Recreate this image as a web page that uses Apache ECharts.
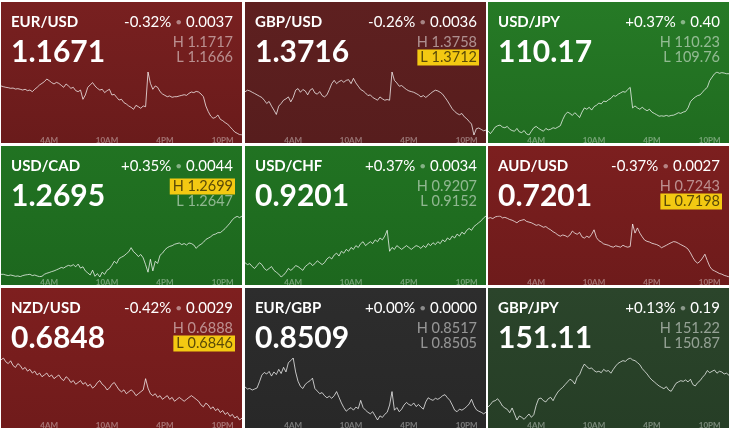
<!DOCTYPE html>
<html><head><meta charset="utf-8">
<script src="https://cdn.jsdelivr.net/npm/echarts@6/dist/echarts.min.js"></script>
<style>html,body{margin:0;padding:0;background:#fff}#c{width:731px;height:436px}</style>
</head><body><div id="c"></div><script>
// ---------- data ----------
const pairs = ['EUR/USD','GBP/USD','USD/JPY','USD/CAD','USD/CHF','AUD/USD','NZD/USD','EUR/GBP','GBP/JPY'];
const lastPrices = ['1.1671','1.3716','110.17','1.2695','0.9201','0.7201','0.6848','0.8509','151.11'];
const changePct = ['-0.32%','-0.26%','+0.37%','+0.35%','+0.37%','-0.37%','-0.42%','+0.00%','+0.13%'];
const changeAbs = ['0.0037','0.0036','0.40','0.0044','0.0034','0.0027','0.0029','0.0000','0.19'];
const highs = ['1.1717','1.3758','110.23','1.2699','0.9207','0.7243','0.6888','0.8517','151.22'];
const lows  = ['1.1666','1.3712','109.76','1.2647','0.9152','0.7198','0.6846','0.8505','150.87'];
const highlighted = ['', 'L', '', 'H', '', 'L', 'L', '', ''];
const timeLabels = ['4AM','10AM','4PM','10PM'];

const eurusd = [1.17057,1.17051,1.17046,1.17043,1.17038,1.17040,1.17032,1.17035,1.17030,1.17024,
1.17030,1.17019,1.17024,1.17011,1.17030,1.17046,1.17065,1.17078,1.17092,1.17113,
1.17100,1.17084,1.17073,1.17086,1.17078,1.17062,1.17046,1.17073,1.17057,1.17038,
1.17046,1.17019,1.17011,1.17024,1.16949,1.16984,1.17046,1.17065,1.17084,1.17057,
1.17038,1.17024,1.17030,1.17003,1.17019,1.17030,1.16984,1.16989,1.16965,1.16943,
1.16949,1.16922,1.16911,1.16895,1.16884,1.16868,1.16900,1.16889,1.16876,1.16895,
1.16889,1.17170,1.17078,1.17030,1.17057,1.17046,1.17011,1.16992,1.16981,1.16970,
1.16976,1.16965,1.16970,1.16970,1.16976,1.16981,1.16986,1.16981,1.16997,1.17008,
1.17003,1.17013,1.17008,1.16992,1.16970,1.16895,1.16849,1.16814,1.16795,1.16803,
1.16822,1.16787,1.16776,1.16760,1.16749,1.16727,1.16706,1.16684,1.16674,1.16663,1.16660];

const gbpusd = [1.37435,1.37447,1.37442,1.37432,1.37423,1.37413,1.37403,1.37394,1.37374,1.37350,
1.37365,1.37331,1.37302,1.37270,1.37331,1.37350,1.37374,1.37384,1.37398,1.37362,
1.37394,1.37447,1.37459,1.37432,1.37452,1.37442,1.37413,1.37447,1.37459,1.37427,
1.37418,1.37437,1.37408,1.37398,1.37413,1.37452,1.37495,1.37519,1.37495,1.37510,
1.37519,1.37505,1.37519,1.37524,1.37495,1.37534,1.37500,1.37476,1.37452,1.37442,
1.37427,1.37408,1.37413,1.37394,1.37384,1.37374,1.37398,1.37384,1.37374,1.37379,
1.37374,1.37580,1.37519,1.37500,1.37476,1.37481,1.37466,1.37452,1.37442,1.37437,
1.37432,1.37423,1.37413,1.37398,1.37408,1.37394,1.37408,1.37423,1.37437,1.37447,
1.37442,1.37432,1.37418,1.37394,1.37369,1.37340,1.37311,1.37292,1.37277,1.37268,
1.37277,1.37253,1.37239,1.37219,1.37200,1.37120,1.37166,1.37171,1.37161,1.37151,1.37156];

const usdjpy = [109.791,109.770,109.793,109.819,109.829,109.834,109.819,109.814,109.824,109.803,
109.793,109.788,109.809,109.783,109.778,109.793,109.768,109.760,109.788,109.814,
109.824,109.809,109.798,109.788,109.809,109.798,109.803,109.814,109.809,109.819,
109.829,109.875,109.911,109.931,109.921,109.906,109.926,109.911,109.890,109.931,
109.962,109.952,109.967,109.946,109.972,109.982,109.998,109.992,110.013,110.008,
110.023,110.033,110.054,110.049,110.064,110.074,110.084,110.079,110.100,110.115,
109.962,109.977,109.962,109.952,109.967,109.952,109.941,109.952,109.931,109.921,
109.911,109.900,109.903,109.900,109.906,109.900,109.906,109.908,109.916,109.926,
109.921,109.931,109.936,109.962,110.008,110.028,110.043,110.054,110.059,110.079,
110.100,110.115,110.166,110.192,110.217,110.230,110.220,110.225,110.222,110.217,110.217];

const usdcad = [1.26493,1.26493,1.26487,1.26482,1.26487,1.26482,1.26476,1.26479,1.26473,1.26482,
1.26487,1.26490,1.26493,1.26482,1.26487,1.26479,1.26473,1.26476,1.26493,1.26502,
1.26508,1.26516,1.26522,1.26531,1.26540,1.26551,1.26546,1.26560,1.26569,1.26563,
1.26575,1.26557,1.26580,1.26546,1.26557,1.26522,1.26505,1.26487,1.26528,1.26476,
1.26499,1.26470,1.26511,1.26493,1.26528,1.26540,1.26569,1.26604,1.26586,1.26627,
1.26639,1.26650,1.26668,1.26685,1.26720,1.26685,1.26668,1.26644,1.26662,1.26633,
1.26575,1.26511,1.26621,1.26522,1.26604,1.26586,1.26656,1.26673,1.26702,1.26720,
1.26731,1.26737,1.26749,1.26755,1.26760,1.26746,1.26755,1.26743,1.26760,1.26755,
1.26743,1.26714,1.26737,1.26749,1.26766,1.26790,1.26801,1.26813,1.26830,1.26836,
1.26848,1.26848,1.26865,1.26883,1.26906,1.26929,1.26958,1.26976,1.26987,1.26976,1.26990];

const usdchf = [0.91649,0.91632,0.91640,0.91614,0.91597,0.91623,0.91649,0.91632,0.91597,0.91580,
0.91597,0.91614,0.91580,0.91563,0.91546,0.91520,0.91537,0.91563,0.91597,0.91580,
0.91597,0.91623,0.91614,0.91597,0.91580,0.91614,0.91632,0.91649,0.91623,0.91640,
0.91666,0.91649,0.91632,0.91649,0.91683,0.91700,0.91683,0.91718,0.91735,0.91709,
0.91752,0.91735,0.91769,0.91752,0.91786,0.91769,0.91803,0.91786,0.91821,0.91838,
0.91803,0.91821,0.91838,0.91821,0.91855,0.91838,0.91872,0.91855,0.91889,0.91941,
0.91752,0.91786,0.91769,0.91803,0.91786,0.91769,0.91786,0.91803,0.91786,0.91769,
0.91786,0.91803,0.91795,0.91778,0.91803,0.91786,0.91821,0.91803,0.91829,0.91812,
0.91838,0.91821,0.91855,0.91838,0.91872,0.91855,0.91889,0.91872,0.91907,0.91889,
0.91924,0.91907,0.91941,0.91958,0.91941,0.91975,0.91992,0.92010,0.92027,0.92053,0.92070];

const audusd = [0.72413,0.72418,0.72411,0.72423,0.72428,0.72430,0.72416,0.72420,0.72413,0.72404,
0.72399,0.72390,0.72380,0.72394,0.72399,0.72404,0.72390,0.72385,0.72380,0.72371,
0.72361,0.72366,0.72357,0.72347,0.72352,0.72338,0.72328,0.72314,0.72304,0.72290,
0.72281,0.72290,0.72285,0.72276,0.72290,0.72319,0.72304,0.72295,0.72309,0.72276,
0.72267,0.72281,0.72271,0.72295,0.72328,0.72271,0.72248,0.72238,0.72224,0.72219,
0.72214,0.72205,0.72200,0.72210,0.72205,0.72200,0.72214,0.72205,0.72200,0.72205,
0.72371,0.72304,0.72342,0.72304,0.72276,0.72252,0.72243,0.72238,0.72229,0.72224,
0.72219,0.72210,0.72196,0.72205,0.72214,0.72224,0.72233,0.72241,0.72238,0.72229,
0.72219,0.72210,0.72200,0.72186,0.72158,0.72124,0.72096,0.72082,0.72096,0.72120,
0.72148,0.72101,0.72058,0.72034,0.72025,0.72016,0.72006,0.72001,0.71992,0.71987,0.71980];

const nzdusd = [0.68867,0.68880,0.68854,0.68842,0.68861,0.68829,0.68816,0.68842,0.68829,0.68803,
0.68816,0.68791,0.68803,0.68778,0.68791,0.68765,0.68778,0.68753,0.68765,0.68778,
0.68753,0.68765,0.68740,0.68753,0.68765,0.68740,0.68727,0.68753,0.68740,0.68714,
0.68727,0.68702,0.68714,0.68727,0.68702,0.68714,0.68689,0.68702,0.68676,0.68689,
0.68714,0.68727,0.68702,0.68689,0.68664,0.68676,0.68702,0.68714,0.68689,0.68664,
0.68651,0.68664,0.68638,0.68651,0.68664,0.68651,0.68625,0.68638,0.68651,0.68664,
0.68740,0.68676,0.68638,0.68625,0.68638,0.68613,0.68625,0.68600,0.68613,0.68625,
0.68600,0.68613,0.68587,0.68600,0.68613,0.68600,0.68587,0.68600,0.68613,0.68625,
0.68613,0.68600,0.68587,0.68562,0.68549,0.68574,0.68562,0.68536,0.68549,0.68524,
0.68536,0.68511,0.68524,0.68498,0.68511,0.68485,0.68498,0.68473,0.68485,0.68460,0.68473];

const eurgbp = [0.85114,0.85110,0.85111,0.85108,0.85110,0.85112,0.85124,0.85137,0.85142,0.85139,
0.85144,0.85135,0.85143,0.85138,0.85148,0.85140,0.85152,0.85143,0.85161,0.85165,
0.85170,0.85143,0.85125,0.85115,0.85111,0.85119,0.85123,0.85126,0.85131,0.85111,
0.85106,0.85101,0.85103,0.85097,0.85093,0.85096,0.85092,0.85097,0.85105,0.85094,
0.85083,0.85074,0.85067,0.85071,0.85074,0.85069,0.85075,0.85072,0.85088,0.85074,
0.85069,0.85065,0.85062,0.85066,0.85058,0.85050,0.85058,0.85055,0.85061,0.85065,
0.85079,0.85105,0.85069,0.85074,0.85066,0.85071,0.85079,0.85084,0.85080,0.85078,
0.85083,0.85076,0.85080,0.85075,0.85071,0.85085,0.85093,0.85090,0.85088,0.85092,
0.85090,0.85093,0.85097,0.85099,0.85093,0.85088,0.85079,0.85069,0.85066,0.85071,
0.85069,0.85072,0.85076,0.85081,0.85090,0.85078,0.85070,0.85067,0.85065,0.85062,0.85065];

const gbpjpy = [150.943,150.957,150.975,150.979,150.990,150.972,150.949,150.938,150.930,150.911,
150.938,150.904,150.870,150.893,150.885,150.874,150.889,150.904,150.885,150.900,
150.953,150.990,150.994,150.979,150.972,150.990,150.998,150.979,151.006,151.028,
151.043,151.054,151.070,151.085,151.100,151.092,151.073,151.111,151.126,151.160,
151.186,151.171,151.160,151.164,151.149,151.141,151.145,151.137,151.156,151.145,
151.149,151.134,151.156,151.175,151.190,151.198,151.205,151.201,151.213,151.220,
151.209,151.205,151.194,151.182,151.160,151.145,151.130,151.111,151.096,151.085,
151.073,151.062,151.054,151.047,151.058,151.039,151.032,151.054,151.077,151.085,
151.092,151.088,151.096,151.085,151.100,151.070,151.062,151.081,151.092,151.111,
151.126,151.149,151.137,151.145,151.152,151.134,151.145,151.141,151.130,151.134,151.122];

const seriesData = [eurusd, gbpusd, usdjpy, usdcad, usdchf, audusd, nzdusd, eurgbp, gbpjpy];

// ---------- styles / layout ----------
const bgTop = ['#782020','#5e2020','#267a26','#217322','#217322','#7c1f1f','#7e1f1f','#2d2d2d','#2b452b'];
const bgBot = ['#6a1b1b','#571d1d','#206c20','#1d671e','#1d671e','#6e1b1b','#701b1b','#282828','#263e26'];
const colX = [1, 245, 488];
const rowY = [2, 146, 288];
const rowH = [141, 139, 140];
const tileW = 241;
const FONT = 'Lato, "Open Sans", sans-serif';

// 15-minute steps from 11PM (previous day) to midnight
const times = [];
for (let i = 0; i < seriesData[0].length; i++) {
  const m = 23 * 60 + i * 15;
  const h = Math.floor(m / 60) % 24, mm = m % 60;
  const h12 = h % 12 === 0 ? 12 : h % 12;
  const ap = h < 12 ? 'AM' : 'PM';
  times.push(mm === 0 ? h12 + ap : h12 + ':' + String(mm).padStart(2, '0') + ap);
}

const grids = [], xAxes = [], yAxes = [], series = [], els = [];
pairs.forEach((p, i) => {
  const r = Math.floor(i / 3);
  const x0 = colX[i % 3], y0 = rowY[r], tileH = rowH[r];
  grids.push({ left: x0, top: y0 + 70, width: tileW, height: tileH - 78 });
  xAxes.push({
    type: 'category', gridIndex: i, data: times, boundaryGap: false,
    axisLine: { show: false }, axisTick: { show: false }, splitLine: { show: false },
    axisLabel: {
      interval: (idx, val) => timeLabels.includes(val),
      color: 'rgba(255,255,255,0.38)', fontSize: 8, fontWeight: 'bold', fontFamily: FONT, margin: 1
    }
  });
  yAxes.push({ type: 'value', gridIndex: i, min: 'dataMin', max: 'dataMax', show: false, scale: true });
  series.push({
    type: 'line', xAxisIndex: i, yAxisIndex: i, data: seriesData[i], showSymbol: false, symbol: 'none',
    lineStyle: { width: 1, color: 'rgba(255,255,255,0.72)' }, silent: true, z: 5
  });

  els.push({
    type: 'rect', silent: true, z: 0,
    shape: { x: x0, y: y0, width: tileW, height: tileH },
    style: { fill: new echarts.graphic.LinearGradient(0, 0, 0, 1, [
      { offset: 0, color: bgTop[i] }, { offset: 1, color: bgBot[i] }]) }
  });
  els.push({
    type: 'text', z: 100, x: x0 + 10, y: y0 + 20,
    style: { text: p, fill: '#fff', fontSize: 15, fontWeight: 'bold', fontFamily: FONT, align: 'left', verticalAlign: 'middle' }
  });
  els.push({
    type: 'text', z: 100, x: x0 + 10, y: y0 + 50,
    style: { text: lastPrices[i], fill: '#fff', fontSize: 30, fontWeight: 'bold', fontFamily: FONT, align: 'left', verticalAlign: 'middle' }
  });
  els.push({
    type: 'text', z: 100, x: x0 + 232, y: y0 + 20,
    style: {
      text: '{v|' + changePct[i] + '} {d|•} {v|' + changeAbs[i] + '}',
      fontSize: 15, fontFamily: FONT, fill: '#fff', align: 'right', verticalAlign: 'middle',
      rich: {
        v: { fill: '#fff', fontSize: 15, fontFamily: FONT },
        d: { fill: 'rgba(255,255,255,0.45)', fontSize: 12, fontFamily: FONT }
      }
    }
  });
  [['H', highs[i], 40.5], ['L', lows[i], 55.5]].forEach(([k, v, yy]) => {
    const hl = highlighted[i] === k;
    const st = {
      text: k + ' ' + v, fontSize: 14.5, fontFamily: FONT, align: 'right', verticalAlign: 'middle',
      fill: hl ? '#5a4a08' : 'rgba(255,255,255,0.5)'
    };
    if (hl) { st.backgroundColor = '#f3c912'; st.padding = [1, 2, 0, 3]; }
    els.push({ type: 'text', z: 100, x: x0 + (hl ? 234 : 232), y: y0 + yy, style: st });
  });
});

const chart = echarts.init(document.getElementById('c'), null, { renderer: 'canvas' });
chart.setOption({
  backgroundColor: '#ffffff',
  animation: false,
  grid: grids, xAxis: xAxes, yAxis: yAxes, series: series,
  graphic: { elements: els }
});
</script></body></html>
